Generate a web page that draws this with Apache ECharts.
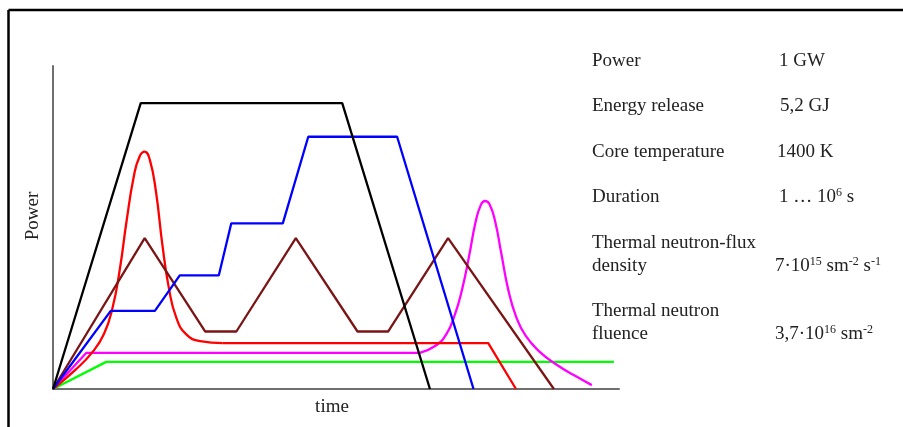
<!DOCTYPE html>
<html>
<head>
<meta charset="utf-8">
<script src="https://cdn.jsdelivr.net/npm/echarts@6/dist/echarts.min.js"></script>
<style>
html,body{margin:0;padding:0;background:#fff;}
#chart{width:903px;height:427px;}
</style>
</head>
<body>
<div id="chart"></div>
<script>
// ---- data: [time, power] pairs (arbitrary units 0..100) ----
const blackPower = [[0,0],[15.5,88.5],[51.1,88.5],[66.6,0]];
const bluePower = [[0,0],[10.2,24.2],[18.0,24.2],[22.4,35.2],[29.3,35.2],[31.5,51.3],[40.6,51.3],[45.1,78.1],[60.8,78.1],[74.3,0]];
const brownPower = [[0,0],[16.2,46.7],[26.9,17.8],[32.4,17.8],[42.9,46.7],[53.8,17.8],[59.2,17.8],[69.8,46.7],[88.5,0]];
const redPeak = [[0,0],[4,6],[7,11.5],[9,17],[10.5,25],[11.8,37],[13,52],[14.3,66],[15.3,72],[16.2,73.5],[17.1,71],[18.2,61],[19.3,45],[20.5,31],[21.8,22],[23.5,17],[26,14.8],[30,14.2]];
const redTail = [[30,14.2],[76.9,14.2],[81.8,0]];
const magentaStart = [[0,0],[5.9,11.2],[64.8,11.2]];
const magentaPeak = [[64.8,11.2],[67.5,13.3],[69.5,17],[71,23],[72.3,31],[73.5,41],[74.7,52],[75.6,57],[76.3,58.2],[77.1,57.3],[78.1,52],[79.2,42],[80.4,31],[81.8,22.5],[83.5,16.5],[86,11.5],[89,7.5],[92,4.3],[95.2,1.2]];
const greenPower = [[0,0],[9.4,8.4],[99.1,8.4]];

const xLabel = 'time';
const yLabel = 'Power';
const paramNames = ['Power','Energy release','Core temperature','Duration','Thermal neutron-flux\ndensity','Thermal neutron\nfluence'];
const paramValues = ['1 GW','5,2 GJ','1400 K','1 … 10{sup|6} s','7·10{sup|15} sm{sup|-2} s{sup|-1}','3,7·10{sup|16} sm{sup|-2}'];

const FONT = '"Liberation Serif","Times New Roman",serif';
const TXT = '#222';

function lineSeries(data, color, smooth){
  return {type:'line', data:data, showSymbol:false, symbol:'none', smooth:smooth?0.5:false,
    lineStyle:{color:color, width:2.3}, itemStyle:{color:color}, animation:false, silent:true};
}

const chart = echarts.init(document.getElementById('chart'), null, {renderer:'canvas'});

const rowY = [61, 106.5, 152, 197, 254.5, 323];
const valY = [61, 106.5, 152, 197, 266, 334];
const valX = [779, 780, 777, 779, 775, 775];

const graphics = [
  {type:'line', shape:{x1:8.5,y1:10,x2:903,y2:10}, style:{stroke:'#000',lineWidth:2.5}, silent:true},
  {type:'line', shape:{x1:8.5,y1:10,x2:8.5,y2:427}, style:{stroke:'#000',lineWidth:2.5}, silent:true},
  {type:'text', x:33, y:216, rotation:Math.PI/2,
    style:{text:yLabel, fill:TXT, font:'19px '+FONT, textAlign:'center', textVerticalAlign:'middle'}}
];
paramNames.forEach(function(n,i){
  graphics.push({type:'text', x:592, y:rowY[i],
    style:{text:n, fill:TXT, font:'19px '+FONT, lineHeight:23, textAlign:'left', textVerticalAlign:'middle'}});
  graphics.push({type:'text', x:valX[i], y:valY[i],
    style:{text:paramValues[i], fill:TXT, font:'19px '+FONT, textAlign:'left', textVerticalAlign:'middle',
      rich:{sup:{fontSize:12, fontFamily:'Liberation Serif', verticalAlign:'top', fill:TXT, lineHeight:20}}}});
});

chart.setOption({
  animation:false,
  backgroundColor:'#fff',
  grid:{left:53, top:66, right:284, bottom:38},
  xAxis:{type:'value', min:0, max:100, name:xLabel, nameLocation:'middle', nameGap:9,
    nameTextStyle:{color:TXT, fontFamily:FONT, fontSize:19, padding:[0,8,0,0]},
    axisLine:{show:true, lineStyle:{color:'#6f6f6f', width:2}}, axisTick:{show:false},
    axisLabel:{show:false}, splitLine:{show:false}},
  yAxis:{type:'value', min:0, max:100,
    axisLine:{show:true, lineStyle:{color:'#6f6f6f', width:2}}, axisTick:{show:false},
    axisLabel:{show:false}, splitLine:{show:false}},
  series:[
    lineSeries(greenPower,'#00ff00',false),
    lineSeries(magentaStart,'#ff00ff',false),
    lineSeries(magentaPeak,'#ff00ff',true),
    lineSeries(redTail,'#ff0000',false),
    lineSeries(redPeak,'#ff0000',true),
    lineSeries(brownPower,'#7a1515',false),
    lineSeries(bluePower,'#0000ff',false),
    lineSeries(blackPower,'#000000',false)
  ],
  graphic:graphics
});
</script>
</body>
</html>
